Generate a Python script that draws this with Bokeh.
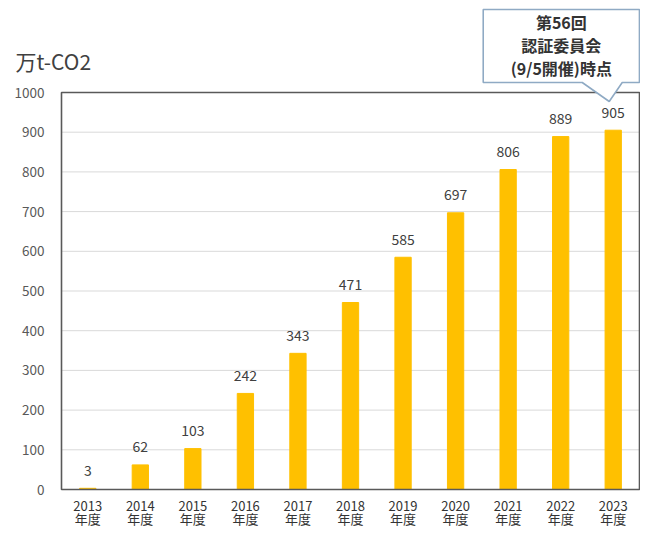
from bokeh.plotting import figure
from bokeh.models import Range1d
from bokeh.core.properties import value
from bokeh.embed import file_html
from bokeh.resources import INLINE

years = ["2013", "2014", "2015", "2016", "2017", "2018", "2019", "2020", "2021", "2022", "2023"]
suffix = "年度"
values = [3, 62, 103, 242, 343, 471, 585, 697, 806, 889, 905]
y_ticks = [0, 100, 200, 300, 400, 500, 600, 700, 800, 900, 1000]
unit_label = "万t-CO2"
callout_lines = ["第56回", "認証委員会", "(9/5開催)時点"]

JP = "Noto Sans CJK JP"
n = len(years)
xs = [i + 0.5 for i in range(n)]

W, H = 640, 527
# chart box (data 0..n, 0..1000) in figure pixels
box_left_px, box_right_px, box_top_px, box_bottom_px = 61, 639, 92, 489
sx = (box_right_px - box_left_px) / n
sy = (box_bottom_px - box_top_px) / 1000
x0 = -box_left_px / sx
x1 = (W - box_left_px) / sx
y0 = -(H - box_bottom_px) / sy
y1 = box_bottom_px / sy

p = figure(width=W, height=H, output_backend="svg", toolbar_location=None,
           x_range=Range1d(x0, x1), y_range=Range1d(y0, y1),
           min_border=0)
p.outline_line_color = None
p.xaxis.visible = False
p.yaxis.visible = False
p.xgrid.visible = False
p.ygrid.visible = False
p.background_fill_color = "white"
p.border_fill_color = "white"

# gridlines
p.segment(x0=[0] * len(y_ticks), x1=[n] * len(y_ticks), y0=y_ticks, y1=y_ticks,
          line_color="#d9d9d9", line_width=1)

# bars
p.vbar(x=xs, top=values, width=0.31, color="#FFC000")

# chart box
p.quad(left=[0], right=[n], bottom=[0], top=[1000], fill_color=None,
       line_color="#595959", line_width=1.6)

# value labels
p.text(x=xs, y=values, text=[str(v) for v in values], text_align="center",
       text_baseline="middle", y_offset=-18, text_font=value(JP),
       text_font_size="14px", text_color="#404040")

# y tick labels
p.text(x=[0] * len(y_ticks), y=y_ticks, text=[str(t) for t in y_ticks],
       text_align="right", text_baseline="middle", x_offset=-17,
       text_font=value(JP), text_font_size="13.5px", text_color="#595959")

# x tick labels (two lines)
p.text(x=xs, y=[0] * n, text=years, text_align="center", text_baseline="middle",
       y_offset=16, text_font=value(JP), text_font_size="13px", text_color="#333333")
p.text(x=xs, y=[0] * n, text=[suffix] * n, text_align="center", text_baseline="middle",
       y_offset=29, text_font=value(JP), text_font_size="13px", text_color="#333333")

# unit label
p.text(x=[0], y=[1000], text=[unit_label], text_align="left", text_baseline="middle",
       x_offset=-46, y_offset=-32, text_font=value(JP), text_font_size="21px",
       text_color="#404040")

# callout box with pointer toward last bar
tip_x = xs[-1]
tip_y = 1000 - 9 / sy
cb_l = tip_x - 130 / sx
cb_r = x1 - 0.02
cb_b = 1000 + 10 / sy
cb_t = 1000 + 83 / sy
cx = [cb_l, tip_x - 31 / sx, tip_x - 4 / sx, tip_x + 9 / sx, cb_r, cb_r, cb_l]
cy = [cb_b, cb_b, tip_y, cb_b, cb_b, cb_t, cb_t]
p.patch(cx, cy, fill_color="white", line_color="#8FAAC4", line_width=1.6)
mid = (cb_l + cb_r) / 2
line_ys = [cb_t - 12 / sy - k * 23 / sy for k in range(3)]
p.text(x=[mid] * 3, y=line_ys, text=callout_lines, text_align="center",
       text_baseline="middle", text_font=value(JP), text_font_size="16px",
       text_font_style="bold", text_color="#333333")

open("out.html", "w").write(file_html(p, INLINE))
